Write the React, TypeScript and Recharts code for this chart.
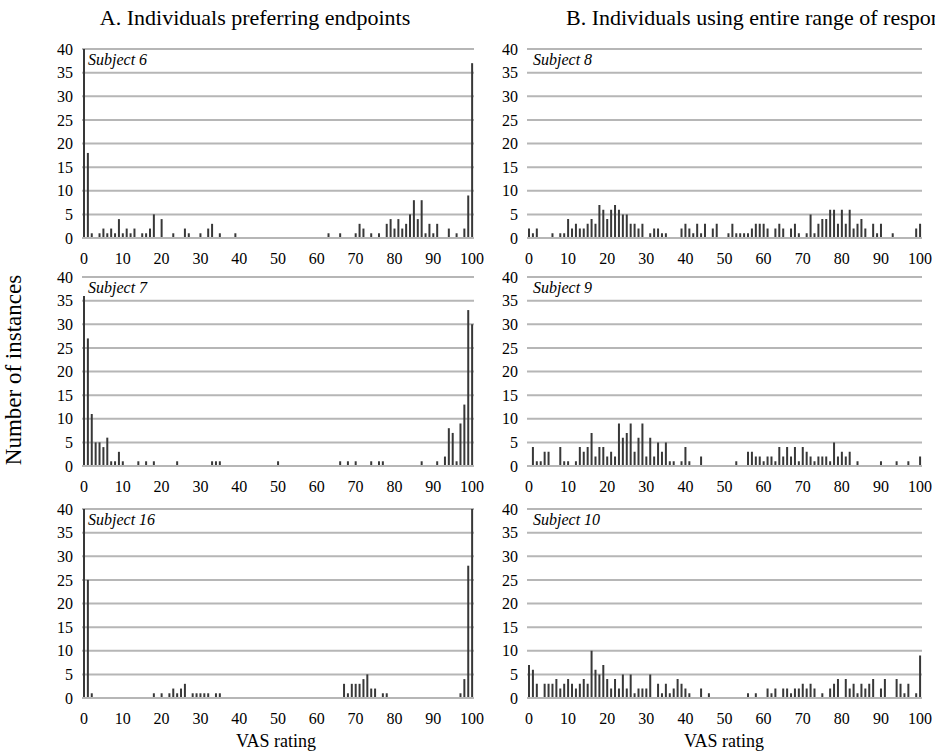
import React from 'react';
import { BarChart, Bar, XAxis, YAxis, CartesianGrid } from 'recharts';

// VAS ratings 0..100 are the categories of every panel
const ratings = Array.from({ length: 101 }, (_, i) => i);
const yTicks = [0, 5, 10, 15, 20, 25, 30, 35, 40];

// counts per rating, index = rating
const subject6 = [
  45, 18, 1, 0, 1, 2, 1, 2, 1, 4,
  1, 2, 1, 2, 0, 1, 1, 2, 5, 0,
  4, 0, 0, 1, 0, 0, 2, 1, 0, 0,
  1, 0, 2, 3, 0, 1, 0, 0, 0, 1,
  0, 0, 0, 0, 0, 0, 0, 0, 0, 0,
  0, 0, 0, 0, 0, 0, 0, 0, 0, 0,
  0, 0, 0, 1, 0, 0, 1, 0, 0, 0,
  1, 3, 2, 0, 1, 0, 1, 0, 3, 4,
  2, 4, 2, 3, 5, 8, 4, 8, 1, 3,
  1, 3, 0, 0, 2, 0, 1, 0, 2, 9,
  37,
];
const subject7 = [
  36, 27, 11, 5, 5, 4, 6, 1, 1, 3,
  1, 0, 0, 0, 1, 0, 1, 0, 1, 0,
  0, 0, 0, 0, 1, 0, 0, 0, 0, 0,
  0, 0, 0, 1, 1, 1, 0, 0, 0, 0,
  0, 0, 0, 0, 0, 0, 0, 0, 0, 0,
  1, 0, 0, 0, 0, 0, 0, 0, 0, 0,
  0, 0, 0, 0, 0, 0, 1, 0, 1, 0,
  1, 0, 0, 0, 1, 0, 1, 1, 0, 0,
  0, 0, 0, 0, 0, 0, 0, 1, 0, 0,
  0, 1, 0, 2, 8, 7, 1, 9, 13, 33,
  30,
];
const subject16 = [
  45, 25, 1, 0, 0, 0, 0, 0, 0, 0,
  0, 0, 0, 0, 0, 0, 0, 0, 1, 0,
  1, 0, 1, 2, 1, 2, 3, 0, 1, 1,
  1, 1, 1, 0, 1, 1, 0, 0, 0, 0,
  0, 0, 0, 0, 0, 0, 0, 0, 0, 0,
  0, 0, 0, 0, 0, 0, 0, 0, 0, 0,
  0, 0, 0, 0, 0, 0, 0, 3, 1, 3,
  3, 3, 4, 5, 2, 2, 0, 1, 1, 0,
  0, 0, 0, 0, 0, 0, 0, 0, 0, 0,
  0, 0, 0, 0, 0, 0, 0, 1, 4, 28,
  45,
];
const subject8 = [
  2, 1, 2, 0, 0, 0, 1, 0, 1, 1,
  4, 2, 3, 2, 2, 3, 4, 3, 7, 6,
  4, 6, 7, 6, 5, 5, 3, 3, 2, 3,
  0, 1, 2, 2, 1, 1, 0, 0, 0, 2,
  3, 2, 1, 3, 1, 3, 0, 2, 3, 0,
  0, 1, 3, 1, 1, 1, 1, 2, 3, 3,
  3, 2, 0, 2, 3, 2, 0, 2, 3, 1,
  0, 1, 5, 1, 3, 4, 4, 6, 6, 3,
  6, 3, 6, 2, 3, 4, 2, 0, 3, 1,
  3, 0, 0, 1, 0, 0, 0, 0, 0, 2,
  3,
];
const subject9 = [
  0, 4, 1, 1, 3, 3, 0, 0, 4, 1,
  1, 0, 1, 4, 3, 4, 7, 2, 4, 4,
  2, 3, 2, 9, 6, 7, 9, 3, 6, 9,
  2, 6, 2, 5, 3, 5, 1, 1, 0, 1,
  4, 1, 0, 0, 2, 0, 0, 0, 0, 0,
  0, 0, 0, 1, 0, 0, 3, 3, 2, 2,
  1, 2, 2, 1, 4, 2, 4, 2, 4, 1,
  4, 3, 2, 1, 2, 2, 2, 1, 5, 2,
  3, 2, 3, 0, 1, 0, 0, 0, 0, 0,
  1, 0, 0, 0, 1, 0, 0, 1, 0, 0,
  2,
];
const subject10 = [
  7, 6, 3, 0, 3, 3, 3, 4, 2, 3,
  4, 3, 2, 3, 4, 3, 10, 6, 5, 7,
  4, 2, 4, 2, 5, 2, 5, 1, 2, 2,
  2, 5, 0, 3, 1, 3, 1, 2, 4, 3,
  2, 1, 0, 0, 2, 0, 1, 0, 0, 0,
  0, 0, 0, 0, 0, 0, 1, 0, 1, 0,
  0, 2, 1, 2, 0, 2, 2, 1, 2, 2,
  3, 2, 3, 2, 0, 1, 0, 2, 3, 4,
  0, 4, 2, 3, 1, 3, 2, 3, 4, 0,
  2, 4, 0, 0, 4, 3, 1, 3, 0, 1,
  9,
];

const FONT = '"Liberation Serif", "Times New Roman", serif';
const BAR = '#383838';
const GRID = '#b6b6b6';

type PanelProps = {
  counts: number[];
  subject: string;
  left: number;
  top: number;
  width: number;
  height: number;
};

const Panel = ({ counts, subject, left, top, width, height }: PanelProps) => {
  const data = ratings.map((r, i) => ({ rating: r, count: counts[i] }));
  const yw = 40;
  const mt = 12;
  const mr = 14;
  const xh = 30;
  const tickStyle = { fontSize: 16, fill: '#000', fontFamily: FONT };
  return (
    <div style={{ position: 'absolute', left: left - yw, top: top - mt }}>
      <BarChart
        width={yw + width + mr}
        height={mt + height + xh}
        data={data}
        margin={{ top: mt, right: mr, bottom: 0, left: 0 }}
        barCategoryGap={0}
      >
        <CartesianGrid vertical={false} stroke={GRID} strokeWidth={2} />
        <XAxis
          dataKey="rating"
          interval={9}
          axisLine={{ stroke: GRID, strokeWidth: 2 }}
          tickLine={false}
          tickSize={0}
          tickMargin={15}
          height={xh}
          tick={tickStyle}
        />
        <YAxis
          domain={[0, 40]}
          ticks={yTicks}
          interval={0}
          allowDataOverflow
          width={yw}
          axisLine={false}
          tickLine={false}
          tickSize={0}
          tickMargin={9}
          tick={tickStyle}
        />
        <Bar dataKey="count" fill={BAR} barSize={2} isAnimationActive={false} />
      </BarChart>
      <div
        style={{
          position: 'absolute',
          left: yw + 6,
          top: mt + 2,
          fontStyle: 'italic',
          fontFamily: FONT,
          fontSize: 16,
          lineHeight: '17px',
        }}
      >
        {subject}
      </div>
    </div>
  );
};

const App = () => {
  const lx = 82;
  const rx = 527;
  const lw = 392;
  const rw = 395;
  const h = 189;
  return (
    <div
      style={{
        position: 'absolute',
        left: 0,
        top: 0,
        width: 935,
        height: 754,
        overflow: 'hidden',
        background: '#fff',
        fontFamily: FONT,
      }}
    >
      <div style={{ position: 'absolute', left: 55, width: 400, top: 5, textAlign: 'center', fontSize: 22 }}>
        A. Individuals preferring endpoints
      </div>
      <div style={{ position: 'absolute', left: 566, top: 5, fontSize: 22, whiteSpace: 'nowrap' }}>
        B. Individuals using entire range of respon
      </div>
      <div
        style={{
          position: 'absolute',
          left: 14,
          top: 370,
          fontSize: 23,
          whiteSpace: 'nowrap',
          transform: 'translate(-50%, -50%) rotate(-90deg)',
        }}
      >
        Number of instances
      </div>

      <Panel counts={subject6} subject="Subject 6" left={lx} top={49} width={lw} height={h} />
      <Panel counts={subject7} subject="Subject 7" left={lx} top={277} width={lw} height={h} />
      <Panel counts={subject16} subject="Subject 16" left={lx} top={509} width={lw} height={h} />
      <Panel counts={subject8} subject="Subject 8" left={rx} top={49} width={rw} height={h} />
      <Panel counts={subject9} subject="Subject 9" left={rx} top={277} width={rw} height={h} />
      <Panel counts={subject10} subject="Subject 10" left={rx} top={509} width={rw} height={h} />

      <div style={{ position: 'absolute', left: 226, width: 100, top: 731, textAlign: 'center', fontSize: 18 }}>
        VAS rating
      </div>
      <div style={{ position: 'absolute', left: 674, width: 100, top: 731, textAlign: 'center', fontSize: 18 }}>
        VAS rating
      </div>
    </div>
  );
};

export default App;
